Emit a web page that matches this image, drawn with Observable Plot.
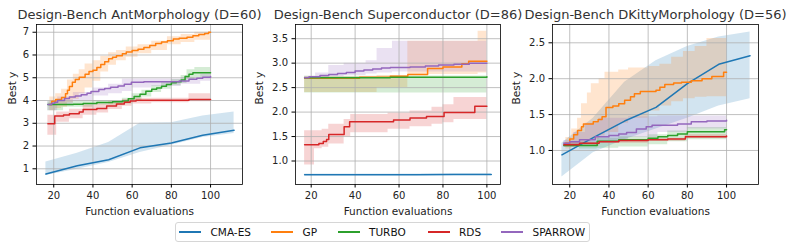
<!DOCTYPE html>
<html><head><meta charset="utf-8">
<script src="https://cdn.jsdelivr.net/npm/d3@7"></script>
<script src="https://cdn.jsdelivr.net/npm/@observablehq/plot@0.6"></script>
<style>
body{margin:0;background:#fff;}
#fig{position:relative;width:790px;height:249px;font-family:"DejaVu Sans",sans-serif;overflow:hidden;}
.panel{position:absolute;top:0;}
#legend{position:absolute;left:175px;top:222px;width:415px;height:20px;border:1px solid #d6d6d6;border-radius:3px;box-sizing:border-box;font-size:10.5px;color:#111;}
.item{position:absolute;top:0;height:18px;display:flex;align-items:center;}
.swatch{width:22px;height:1.5px;margin-right:9.5px;}
</style></head>
<body><div id="fig"></div>
<script>
// ---------- data ----------
const methods = ["CMA-ES", "GP", "TURBO", "RDS", "SPARROW"];
const colors = ["#1f77b4", "#ff7f0e", "#2ca02c", "#d62728", "#9467bd"];
const xTicks = [20, 40, 60, 80, 100];
const titles = ["Design-Bench AntMorphology (D=60)", "Design-Bench Superconductor (D=86)", "Design-Bench DKittyMorphology (D=56)"];
const yTicksAnt = [1, 2, 3, 4, 5, 6, 7];
const yTicksSup = [1.0, 1.5, 2.0, 2.5, 3.0, 3.5];
const yTicksDk = [1.0, 1.5, 2.0, 2.5];

// AntMorphology: mean [x, y], band [x, lo, hi]
const antCMA = [[16,0.77],[32,1.13],[48,1.40],[64,1.92],[80,2.13],[96,2.47],[112,2.69]];
const antCMABand = [[16,0.70,1.30],[32,0.98,1.68],[48,1.28,2.15],[64,1.72,3.00],[80,2.03,3.02],[96,2.38,3.32],[112,2.55,3.50]];
const antGP = [[18,3.82],[19,3.97],[21,4.05],[24,4.13],[26,4.30],[27,4.45],[28,4.62],[29.5,4.80],[31,4.92],[33,5.02],[36,5.15],[38,5.27],[40,5.33],[42,5.45],[44,5.58],[46,5.70],[48,5.83],[50,5.90],[52,5.97],[55,6.05],[57,6.13],[60,6.20],[63,6.25],[66,6.33],[69,6.42],[72,6.50],[75,6.57],[78,6.63],[81,6.70],[84,6.74],[88,6.78],[91,6.85],[94,6.90],[97,6.95],[99,7.00],[100,7.00]];
const antGPBand = [[18,3.55,4.15],[21,3.65,4.30],[24,3.70,4.50],[27,3.90,4.90],[30,4.05,5.15],[33,4.30,5.35],[36,4.55,5.60],[40,4.85,5.75],[44,5.25,5.95],[48,5.55,6.10],[52,5.75,6.20],[57,5.90,6.35],[63,6.05,6.45],[70,6.20,6.60],[78,6.45,6.80],[85,6.55,6.90],[92,6.65,7.00],[100,6.80,7.05]];
const antTURBO = [[17,3.82],[30,3.84],[35,3.87],[42,3.91],[50,3.95],[55,3.98],[58,4.08],[61,4.18],[64,4.28],[67,4.41],[70,4.50],[72.5,4.55],[75,4.63],[77.5,4.70],[80,4.78],[82.5,4.83],[85,4.90],[87,5.05],[89,5.15],[91,5.22],[100,5.22]];
const antTURBOBand = [[17,3.55,3.95],[25,3.70,3.95],[40,3.80,4.00],[55,3.85,4.10],[60,4.00,4.30],[65,4.15,4.45],[70,4.35,4.65],[75,4.50,4.80],[80,4.65,4.92],[85,4.75,5.10],[88,4.90,5.35],[92,5.00,5.45],[100,5.05,5.45]];
const antRDS = [[17,2.98],[20.5,3.32],[25,3.36],[28,3.42],[33,3.50],[35,3.60],[42,3.65],[47,3.76],[52,3.85],[56,3.92],[59,3.98],[62,4.01],[89,4.05],[100,4.05]];
const antRDSBand = [[17,2.47,3.35],[21.5,3.05,3.50],[28,3.20,3.62],[35,3.35,3.80],[42,3.45,3.85],[48,3.60,3.95],[55,3.75,4.05],[60,3.85,4.10],[70,3.90,4.10],[89,3.95,4.30],[100,3.95,4.30]];
const antSPARROW = [[17,3.82],[19,3.88],[20.5,3.92],[22,4.00],[25.5,4.09],[28,4.15],[31,4.20],[34,4.25],[37,4.32],[39,4.40],[43,4.48],[46,4.53],[49,4.58],[52.8,4.64],[56,4.72],[59.6,4.80],[66,4.82],[84,4.86],[89,4.93],[93,4.98],[96,5.02],[100,5.06]];
const antSPARROWBand = [[17,3.55,3.95],[22,3.80,4.15],[30,3.95,4.35],[40,4.20,4.55],[48,4.30,4.72],[55,4.40,4.95],[60,4.55,4.95],[70,4.62,4.95],[85,4.72,5.00],[95,4.85,5.15],[100,4.90,5.20]];

// Superconductor
const supCMA = [[17,0.72],[34,0.72],[51,0.72],[68,0.72],[85,0.725],[102,0.725]];
const supCMABand = [[17,0.705,0.735],[34,0.705,0.735],[51,0.705,0.735],[68,0.705,0.735],[85,0.71,0.74],[102,0.71,0.74]];
const supGP = [[17,2.69],[42,2.71],[56,2.73],[64,2.77],[73,2.89],[80,2.92],[88.6,2.99],[91.7,3.04],[100,3.04]];
const supGPBand = [[17,2.40,2.72],[50,2.50,2.75],[64,2.77,3.45],[96,2.80,3.65],[100,2.80,3.65]];
const supTURBO = [[17,2.70],[56,2.71],[100,2.72]];
const supTURBOBand = [[17,2.39,2.73],[56,2.39,2.74],[100,2.39,2.74]];
const supRDS = [[17,1.33],[23.5,1.36],[25.5,1.40],[27,1.44],[28,1.54],[35,1.70],[37.5,1.80],[57.5,1.84],[65,1.88],[72.5,1.91],[80.5,1.99],[94.5,2.12],[100,2.12]];
const supRDSBand = [[17,0.92,1.62],[21.5,1.25,1.62],[25,1.28,1.65],[28,1.35,1.75],[35,1.50,1.85],[38,1.58,1.95],[55,1.65,1.98],[65,1.70,2.02],[75,1.75,2.10],[80,1.78,2.15],[85,1.85,2.30],[100,1.92,2.35]];
const supSPARROW = [[17,2.70],[19,2.72],[24,2.75],[28,2.77],[32,2.79],[36,2.81],[40,2.84],[44,2.86],[48,2.88],[52,2.90],[56,2.91],[65,2.92],[72,2.94],[78,2.96],[85,2.98],[92,3.00],[100,3.00]];
const supSPARROWBand = [[17,2.68,2.73],[22,2.70,2.80],[28,2.72,2.95],[35,2.75,3.00],[45,2.78,3.05],[50,2.80,3.30],[57,2.82,3.45],[100,2.85,3.45]];

// DKittyMorphology
const dkCMA = [[16,0.94],[32,1.18],[48,1.41],[64,1.60],[80,1.93],[96,2.20],[112,2.32]];
const dkCMABand = [[16,0.63,1.10],[32,0.97,1.45],[48,1.15,1.95],[64,1.30,2.25],[80,1.45,2.45],[96,1.62,2.58],[112,1.72,2.65]];
const dkGP = [[18,1.10],[20,1.16],[22,1.22],[24,1.28],[26,1.33],[27,1.37],[32,1.40],[34.5,1.43],[36.5,1.47],[38.5,1.60],[42,1.62],[45,1.65],[48,1.70],[51,1.75],[53,1.79],[56,1.82],[64,1.84],[66,1.88],[68.5,1.92],[73,1.94],[77,1.95],[82,1.97],[87.5,2.00],[92.5,2.03],[98.5,2.09],[100,2.09]];
const dkGPBand = [[18,1.02,1.18],[21,1.05,1.30],[24,1.08,1.45],[26,1.10,1.65],[29,1.12,1.80],[31,1.15,1.93],[35,1.20,2.00],[38,1.25,2.09],[45,1.38,2.12],[50,1.45,2.15],[60,1.55,2.17],[66,1.62,2.20],[72,1.68,2.30],[78,1.72,2.38],[84,1.74,2.45],[90,1.75,2.56],[100,1.76,2.56]];
const dkTURBO = [[17,1.07],[34,1.13],[45,1.15],[60,1.17],[65,1.19],[70,1.21],[75,1.23],[80,1.26],[99,1.29],[100,1.29]];
const dkTURBOBand = [[17,1.04,1.10],[25,1.02,1.12],[34,1.03,1.17],[45,1.05,1.19],[60,1.08,1.22],[70,1.12,1.27],[80,1.15,1.32],[100,1.18,1.35]];
const dkRDS = [[17,1.08],[25,1.10],[35,1.12],[45,1.14],[60,1.15],[70,1.16],[79,1.19],[100,1.20]];
const dkRDSBand = [[17,1.06,1.11],[35,1.10,1.14],[60,1.13,1.17],[79,1.17,1.22],[100,1.18,1.22]];
const dkSPARROW = [[17,1.10],[20,1.12],[25,1.15],[33,1.19],[40,1.21],[45,1.23],[49,1.25],[54,1.30],[59,1.33],[62,1.35],[75,1.37],[82,1.40],[90,1.41],[100,1.42]];
const dkSPARROWBand = [[17,1.05,1.14],[22,1.08,1.25],[28,1.10,1.38],[35,1.12,1.45],[50,1.18,1.47],[65,1.25,1.48],[80,1.30,1.48],[100,1.32,1.48]];

// ---------- drawing ----------
const fig = document.getElementById("fig");
const H = 216, MT = 24, MB = 32;

function panel(cfg) {
  const {title, left, ml, mr, fw, xDomain, yDomain, yTicks, yFmt, series} = cfg;
  const marks = [];
  series.forEach((s, i) => {
    marks.push(Plot.areaY(s.band, {x: d => d[0], y1: d => d[1], y2: d => d[2], fill: colors[i], fillOpacity: 0.2, curve: i === 0 ? "linear" : "step-after"}));
  });
  marks.push(Plot.gridX(xTicks, {stroke: "#b0b0b0", strokeOpacity: 1, strokeWidth: 0.8}));
  marks.push(Plot.gridY(yTicks, {stroke: "#b0b0b0", strokeOpacity: 1, strokeWidth: 0.8}));
  series.forEach((s, i) => {
    marks.push(Plot.line(s.mean, {x: d => d[0], y: d => d[1], stroke: colors[i], strokeWidth: 1.5, curve: i === 0 ? "linear" : "step-after"}));
  });
  marks.push(Plot.frame({stroke: "black", strokeWidth: 0.8}));
  marks.push(Plot.axisX({ticks: xTicks, tickSize: 3.5, tickPadding: 3.5, label: null, fontSize: 10, fill: "#222"}));
  marks.push(Plot.axisY({ticks: yTicks, tickSize: 3.5, tickPadding: 4, label: null, fontSize: 10, tickFormat: yFmt, fill: "#222"}));
  marks.push(Plot.text([title], {frameAnchor: "top", lineAnchor: "bottom", dy: -6, fontSize: 13, fill: "#333"}));
  marks.push(Plot.text(["Function evaluations"], {frameAnchor: "bottom", lineAnchor: "bottom", dy: 30, fontSize: 10.5, fill: "#222"}));
  marks.push(Plot.text(["Best y"], {frameAnchor: "left", rotate: -90, dx: cfg.ydx, fontSize: 10.5, fill: "#222"}));
  const p = Plot.plot({
    width: ml + fw + mr, height: H, marginLeft: ml, marginRight: mr, marginTop: MT, marginBottom: MB,
    x: {domain: xDomain}, y: {domain: yDomain},
    style: {fontFamily: "DejaVu Sans", fontSize: "10px", color: "black", background: "transparent", overflow: "visible"},
    marks
  });
  const div = document.createElement("div");
  div.className = "panel";
  div.style.left = left + "px";
  div.appendChild(p);
  fig.appendChild(div);
}

const f1 = d3.format(".1f");
panel({title: titles[0], left: 0, ml: 36, mr: 8, fw: 206, xDomain: [11.2, 116.3], yDomain: [0.31, 7.34], yTicks: yTicksAnt, yFmt: d3.format("d"), ydx: -24,
  series: [{mean: antCMA, band: antCMABand}, {mean: antGP, band: antGPBand}, {mean: antTURBO, band: antTURBOBand}, {mean: antRDS, band: antRDSBand}, {mean: antSPARROW, band: antSPARROWBand}]});
panel({title: titles[1], left: 250, ml: 45, mr: 8, fw: 205, xDomain: [12.85, 106.2], yDomain: [0.52, 3.79], yTicks: yTicksSup, yFmt: f1, ydx: -36,
  series: [{mean: supCMA, band: supCMABand}, {mean: supGP, band: supGPBand}, {mean: supTURBO, band: supTURBOBand}, {mean: supRDS, band: supRDSBand}, {mean: supSPARROW, band: supSPARROWBand}]});
panel({title: titles[2], left: 508, ml: 44, mr: 32, fw: 206, xDomain: [11.2, 116.3], yDomain: [0.526, 2.755], yTicks: yTicksDk, yFmt: f1, ydx: -36,
  series: [{mean: dkCMA, band: dkCMABand}, {mean: dkGP, band: dkGPBand}, {mean: dkTURBO, band: dkTURBOBand}, {mean: dkRDS, band: dkRDSBand}, {mean: dkSPARROW, band: dkSPARROWBand}]});

// legend (entry offsets inside the legend box)
const legendOffsets = [3, 95, 161.5, 251.5, 325];
const leg = document.createElement("div");
leg.id = "legend";
methods.forEach((m, i) => {
  const it = document.createElement("div");
  it.className = "item";
  it.style.left = legendOffsets[i] + "px";
  const sw = document.createElement("div");
  sw.className = "swatch";
  sw.style.background = colors[i];
  const t = document.createElement("span");
  t.textContent = m;
  it.appendChild(sw); it.appendChild(t);
  leg.appendChild(it);
});
fig.appendChild(leg);
</script>
</body></html>
